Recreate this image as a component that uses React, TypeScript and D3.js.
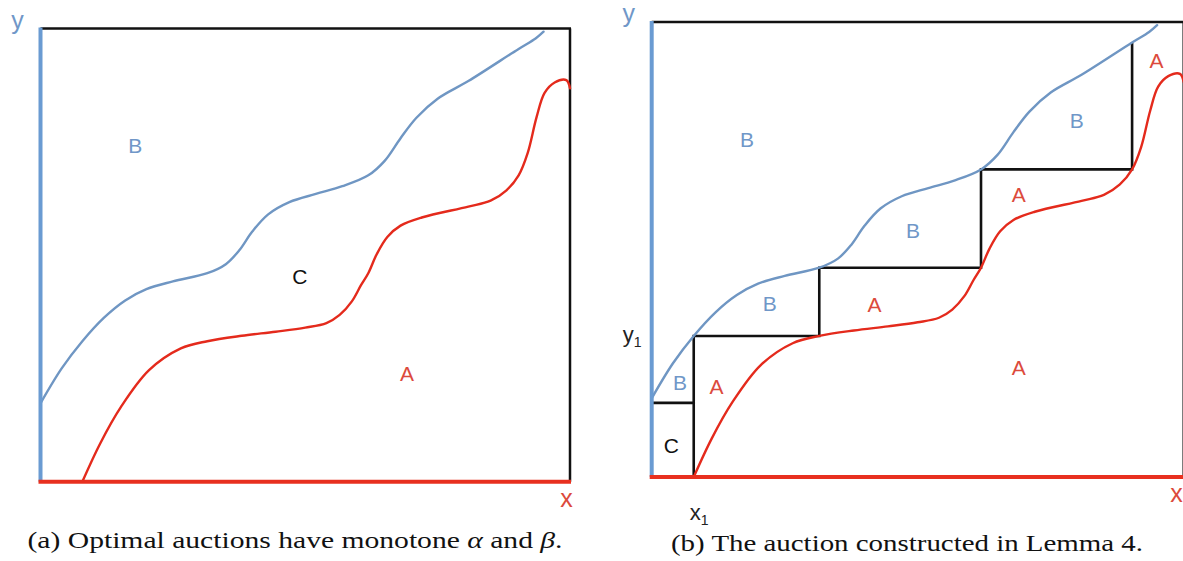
import React from 'react';
import * as d3 from 'd3';

// Curve data in unit domain (x right, y up)
const blueX = [0, 0.040, 0.079, 0.120, 0.160, 0.200, 0.250, 0.315, 0.350, 0.375, 0.400, 0.430, 0.470, 0.520, 0.570, 0.619, 0.650, 0.680, 0.710, 0.750, 0.808, 0.903, 0.935, 0.950];
const blueY = [0.173, 0.250, 0.310, 0.362, 0.400, 0.425, 0.442, 0.460, 0.480, 0.510, 0.552, 0.590, 0.617, 0.635, 0.652, 0.676, 0.708, 0.758, 0.803, 0.845, 0.884, 0.955, 0.978, 0.993];

const redX = [0.079, 0.113, 0.152, 0.205, 0.265, 0.315, 0.380, 0.444, 0.500, 0.540, 0.565, 0.588, 0.605, 0.619, 0.635, 0.655, 0.680, 0.720, 0.808, 0.850, 0.880, 0.903, 0.920, 0.937, 0.952, 0.971, 0.993, 1.0];
const redY = [0, 0.085, 0.165, 0.246, 0.294, 0.310, 0.322, 0.331, 0.340, 0.350, 0.368, 0.398, 0.433, 0.460, 0.502, 0.540, 0.565, 0.583, 0.607, 0.620, 0.643, 0.676, 0.725, 0.805, 0.858, 0.881, 0.886, 0.868];

// Staircase of panel (b)
const stepX = [0.079, 0.315, 0.619, 0.903];
const stepY = [0.163, 0.310, 0.460, 0.676, 0.955];

// Region labels
const leftLabelText = ['B', 'C', 'A'];
const leftLabelX = [0.179, 0.490, 0.692];
const leftLabelY = [0.743, 0.452, 0.239];

const rightLabelText = ['B', 'B', 'B', 'A', 'A', 'A', 'B', 'A', 'B', 'A', 'C'];
const rightLabelX = [0.179, 0.491, 0.799, 0.949, 0.690, 0.419, 0.222, 0.690, 0.053, 0.122, 0.037];
const rightLabelY = [0.742, 0.541, 0.783, 0.916, 0.620, 0.380, 0.382, 0.240, 0.207, 0.198, 0.069];

const captionA = ['(a) Optimal auctions have monotone ', 'α', ' and ', 'β', '.'];
const captionB = '(b) The auction constructed in Lemma 4.';

const BLUE_AXIS = '#6a9bd2';
const BLUE_CURVE = '#6f96c3';
const BLUE_TEXT = '#7097c8';
const RED_AXIS = '#e8301f';
const RED_CURVE = '#e42a1c';
const RED_TEXT = '#dc4a3c';
const SANS = '"Liberation Sans", Arial, Helvetica, sans-serif';
const SERIF = '"Liberation Serif", "Times New Roman", serif';

type Frame = { left: number; top: number; width: number; height: number };

function Panel({ frame, labelText, labelX, labelY, stairs }: { frame: Frame; labelText: string[]; labelX: number[]; labelY: number[]; stairs: boolean }) {
  const x = d3.scaleLinear().domain([0, 1]).range([frame.left, frame.left + frame.width]);
  const y = d3.scaleLinear().domain([0, 1]).range([frame.top + frame.height, frame.top]);
  const line = d3.line<[number, number]>().x(d => x(d[0])).y(d => y(d[1])).curve(d3.curveCatmullRom.alpha(0.5));
  const bluePts = blueX.map((v, i) => [v, blueY[i]] as [number, number]);
  const redPts = redX.map((v, i) => [v, redY[i]] as [number, number]);
  const L = x(0), R = x(1), T = y(1), B = y(0);

  let stairPath = '';
  if (stairs) {
    const p = d3.path();
    p.moveTo(x(0), y(stepY[0]));
    p.lineTo(x(stepX[0]), y(stepY[0]));
    p.moveTo(x(stepX[0]), y(0));
    p.lineTo(x(stepX[0]), y(stepY[1]));
    for (let i = 1; i < stepX.length; i++) {
      p.lineTo(x(stepX[i]), y(stepY[i]));
      p.lineTo(x(stepX[i]), y(stepY[i + 1]));
    }
    stairPath = p.toString();
  }

  return (
    <g>
      <line x1={L} y1={T} x2={R + 1} y2={T} stroke="#111" strokeWidth={2.5} />
      <line x1={R} y1={T} x2={R} y2={B} stroke="#111" strokeWidth={2.5} />
      {stairs && <path d={stairPath} fill="none" stroke="#111" strokeWidth={2.6} strokeLinejoin="miter" />}
      <path d={line(bluePts) || ''} fill="none" stroke={BLUE_CURVE} strokeWidth={2.4} strokeLinecap="round" />
      <path d={line(redPts) || ''} fill="none" stroke={RED_CURVE} strokeWidth={2.4} strokeLinecap="round" />
      <line x1={L} y1={T - 1} x2={L} y2={B} stroke={BLUE_AXIS} strokeWidth={4} />
      <line x1={L - 2} y1={B} x2={R + 1} y2={B} stroke={RED_AXIS} strokeWidth={4} />
      {labelText.map((t, i) => (
        <text key={i} x={x(labelX[i])} y={y(labelY[i])} dy="0.36em" textAnchor="middle" fontFamily={SANS} fontSize={21}
          fill={t === 'A' ? RED_TEXT : t === 'B' ? BLUE_TEXT : '#111'}>{t}</text>
      ))}
      <text x={L - 23} y={T} textAnchor="middle" fontFamily={SANS} fontSize={25} fill={BLUE_TEXT}>y</text>
      <text x={Math.min(R - 3.5, 1176.5)} y={B + 25} textAnchor="middle" fontFamily={SANS} fontSize={25} fill={RED_TEXT}>x</text>
      {stairs && (
        <g fontFamily={SANS} fill="#222">
          <text x={L - 29} y={y(stepY[1]) + 6} fontSize={22}>y<tspan fontSize={14} dy={5}>1</tspan></text>
          <text x={x(stepX[0]) - 4} y={B + 43} fontSize={22}>x<tspan fontSize={14} dy={5}>1</tspan></text>
        </g>
      )}
    </g>
  );
}

export default function App() {
  const frameA: Frame = { left: 40.5, top: 28.5, width: 529.5, height: 453.2 };
  const frameB: Frame = { left: 651.7, top: 22, width: 532, height: 455 };
  return (
    <svg width={1183} height={561} style={{ position: 'absolute', left: 0, top: 0, display: 'block', background: '#fff' }}>
      <rect x={0} y={0} width={1183} height={561} fill="#fff" />
      <Panel frame={frameA} labelText={leftLabelText} labelX={leftLabelX} labelY={leftLabelY} stairs={false} />
      <Panel frame={frameB} labelText={rightLabelText} labelX={rightLabelX} labelY={rightLabelY} stairs={true} />
      <text x={27.5} y={548} fontFamily={SERIF} fontSize={24} fill="#111" textLength={535} lengthAdjust="spacingAndGlyphs">
        {captionA[0]}<tspan fontStyle="italic">{captionA[1]}</tspan>{captionA[2]}<tspan fontStyle="italic">{captionA[3]}</tspan>{captionA[4]}
      </text>
      <text x={671} y={551} fontFamily={SERIF} fontSize={24} fill="#111" textLength={472} lengthAdjust="spacingAndGlyphs">{captionB}</text>
    </svg>
  );
}
